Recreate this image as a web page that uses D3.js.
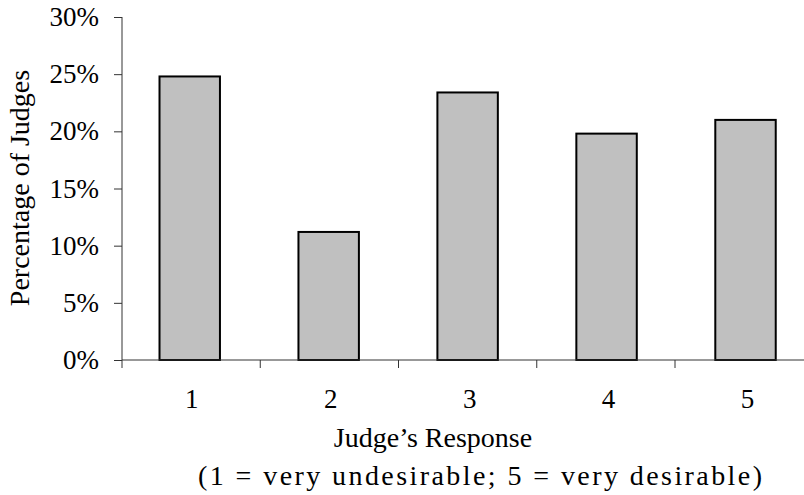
<!DOCTYPE html>
<html>
<head>
<meta charset="utf-8">
<script src="https://cdn.jsdelivr.net/npm/d3@7"></script>
<style>
  body { margin: 0; background: #fff; }
  text { font-family: "Liberation Serif", "Times New Roman", serif; fill: #000; }
</style>
</head>
<body>
<div id="container"></div>
<script>
let width = 804;
let height = 495;

let responses = ["1", "2", "3", "4", "5"];
let percents = [24.8, 11.2, 23.4, 19.8, 21.0];
let yTicks = [0, 5, 10, 15, 20, 25, 30];

let svg = d3.select("#container")
    .append("svg")
    .attr("width", width)
    .attr("height", height);

let plotLeft = 122, plotBottom = 360, plotTop = 17;
let band = 138.25;

let x = d3.scaleBand()
    .domain(responses)
    .range([plotLeft, plotLeft + band * responses.length])
    .paddingInner(0.565)
    .paddingOuter(0.27);

let y = d3.scaleLinear()
    .domain([0, 30])
    .range([plotBottom, plotTop]);

// bars
svg.selectAll('.bar')
    .data(percents)
    .enter()
    .append('rect')
    .attr('class', 'bar')
    .attr('x', (d, i) => x(responses[i]))
    .attr('y', (d) => y(d))
    .attr('width', x.bandwidth())
    .attr('height', (d) => y(0) - y(d))
    .attr('fill', '#c0c0c0')
    .attr('stroke', '#000')
    .attr('stroke-width', 2);

// y axis
let yAxis = svg.append('g')
    .attr('transform', `translate(${plotLeft},0)`)
    .call(d3.axisLeft(y).tickValues(yTicks).tickSize(8).tickPadding(15)
        .tickFormat((d) => d + '%'));
yAxis.selectAll('text').style('font-size', '27px');
yAxis.selectAll('line, path').attr('stroke', '#333');
yAxis.select('.domain').attr('d', `M0,${plotBottom}V${plotTop}`);

// x axis, ticks sit between categories
let bounds = d3.range(responses.length + 1).map((i) => plotLeft + band * i);

svg.append('line')
    .attr('x1', plotLeft).attr('x2', width)
    .attr('y1', plotBottom).attr('y2', plotBottom)
    .attr('stroke', '#333');

svg.selectAll('.xtick')
    .data(bounds)
    .enter()
    .append('line')
    .attr('class', 'xtick')
    .attr('x1', (d) => d).attr('x2', (d) => d)
    .attr('y1', plotBottom).attr('y2', plotBottom + 8)
    .attr('stroke', '#333');

svg.selectAll('.xlabel')
    .data(responses)
    .enter()
    .append('text')
    .attr('class', 'xlabel')
    .attr('x', (d) => x(d) + x.bandwidth() / 2 + 2)
    .attr('y', 408)
    .attr('text-anchor', 'middle')
    .style('font-size', '27px')
    .text((d) => d);

svg.append('text')
    .attr('x', 433)
    .attr('y', 447)
    .attr('text-anchor', 'middle')
    .style('font-size', '28px')
    .text('Judge\u2019s Response');

svg.append('text')
    .attr('x', 198)
    .attr('y', 485)
    .attr('textLength', 564)
    .attr('lengthAdjust', 'spacing')
    .style('font-size', '28px')
    .text('(1 = very undesirable; 5 = very desirable)');

svg.append('text')
    .attr('transform', 'translate(29,188) rotate(-90)')
    .attr('text-anchor', 'middle')
    .style('font-size', '28px')
    .text('Percentage of Judges');
</script>
</body>
</html>
